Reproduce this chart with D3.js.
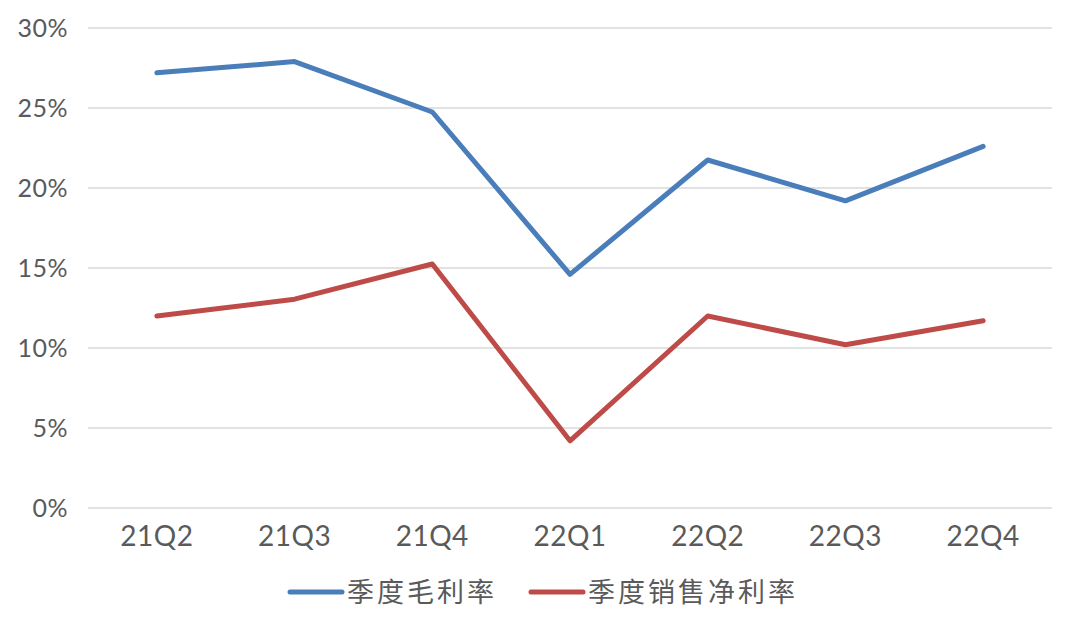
<!DOCTYPE html>
<html>
<head>
<meta charset="utf-8">
<script src="https://cdn.jsdelivr.net/npm/d3@7"></script>
<style>
    body { margin: 0; background: #fff; }
    svg { display: block; }
</style>
</head>
<body>
<div id="chart"></div>
<script>
const quarters = ["21Q2", "21Q3", "21Q4", "22Q1", "22Q2", "22Q3", "22Q4"];
const grossMargin = [27.2, 27.9, 24.75, 14.6, 21.75, 19.2, 22.6];
const netMargin = [12.0, 13.05, 15.25, 4.2, 12.0, 10.2, 11.7];
const yTicks = [0, 5, 10, 15, 20, 25, 30];
const seriesNames = ["季度毛利率", "季度销售净利率"];
const seriesColors = ["#4a7ebb", "#be4b48"];

const width = 1080, height = 630;
const margin = { top: 28, right: 28, bottom: 122, left: 88 };
const innerW = width - margin.left - margin.right;
const innerH = height - margin.top - margin.bottom;

const svg = d3.select("#chart")
    .append("svg")
    .attr("width", width)
    .attr("height", height);

const g = svg.append("g")
    .attr("transform", `translate(${margin.left},${margin.top})`);

const x = d3.scaleBand()
    .domain(quarters)
    .range([0, innerW]);

const y = d3.scaleLinear()
    .domain([0, 30])
    .range([innerH, 0]);

// gridlines
g.append("g")
    .selectAll("line")
    .data(yTicks)
    .enter()
    .append("line")
    .attr("x1", 0)
    .attr("x2", innerW)
    .attr("y1", d => y(d))
    .attr("y2", d => y(d))
    .attr("stroke", "#d9d9d9")
    .attr("stroke-width", 1.5);

// y axis labels
const yAxis = g.append("g")
    .call(d3.axisLeft(y).tickValues(yTicks).tickFormat(d => d + "%").tickSize(0).tickPadding(20));
yAxis.select(".domain").remove();
yAxis.selectAll("text")
    .style("font-family", "Lato, 'Open Sans', sans-serif")
    .style("font-size", "25px")
    .style("letter-spacing", "0.5px")
    .style("fill", "#5a5a5a");

// x axis labels
const xAxis = g.append("g")
    .attr("transform", `translate(0,${innerH})`)
    .call(d3.axisBottom(x).tickSize(0).tickPadding(18));
xAxis.select(".domain").remove();
xAxis.selectAll("text")
    .style("font-family", "Lato, 'Open Sans', sans-serif")
    .style("font-size", "28px")
    .style("letter-spacing", "0.5px")
    .style("fill", "#5a5a5a");

const line = d3.line()
    .x((d, i) => x(quarters[i]) + x.bandwidth() / 2)
    .y(d => y(d));

[grossMargin, netMargin].forEach((vals, k) => {
    g.append("path")
        .datum(vals)
        .attr("fill", "none")
        .attr("stroke", seriesColors[k])
        .attr("stroke-width", 5)
        .attr("stroke-linejoin", "round")
        .attr("stroke-linecap", "round")
        .attr("d", line);
});

// legend
const legendX = [290, 531];
const legend = svg.append("g")
    .attr("transform", "translate(0,592)");

seriesNames.forEach((name, k) => {
    legend.append("line")
        .attr("x1", legendX[k])
        .attr("x2", legendX[k] + 52)
        .attr("y1", 0)
        .attr("y2", 0)
        .attr("stroke", seriesColors[k])
        .attr("stroke-width", 5)
        .attr("stroke-linecap", "round");
    legend.append("text")
        .attr("x", legendX[k] + 57)
        .attr("y", 0)
        .attr("dy", "0.36em")
        .style("font-family", "'Noto Sans CJK SC', sans-serif")
        .style("font-size", "27px")
        .style("letter-spacing", "3px")
        .style("fill", "#5a5a5a")
        .text(name);
});
</script>
</body>
</html>
